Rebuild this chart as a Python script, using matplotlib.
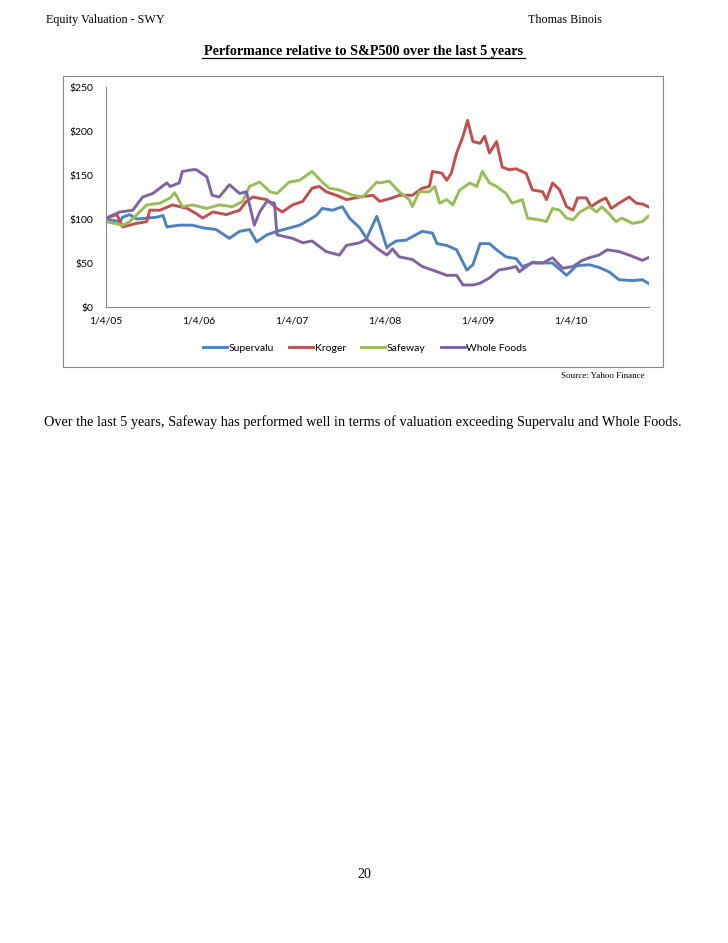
import matplotlib
matplotlib.use('Agg')
import matplotlib.pyplot as plt
from matplotlib.patches import Rectangle
from matplotlib.lines import Line2D
import pandas as pd

# Values (relative to S&P500, start = $100)
supervalu_dates = [
    '2005-01-04', '2005-01-19', '2005-02-28', '2005-03-10', '2005-04-07', '2005-05-04',
    '2005-06-13', '2005-07-22', '2005-08-16', '2005-08-31', '2005-10-19', '2005-12-10',
    '2006-01-19', '2006-03-13', '2006-05-04', '2006-06-13', '2006-07-22', '2006-08-19',
    '2006-09-28', '2006-11-07', '2006-12-16', '2007-02-04', '2007-03-01', '2007-04-10',
    '2007-05-04', '2007-06-13', '2007-07-22', '2007-08-19', '2007-09-28', '2007-10-25',
    '2007-12-04', '2007-12-16', '2008-01-13', '2008-01-22', '2008-02-19', '2008-03-28',
    '2008-05-31', '2008-07-10', '2008-07-28', '2008-09-04', '2008-10-13', '2008-11-22',
    '2008-12-16', '2009-01-13', '2009-02-19', '2009-03-19', '2009-04-25', '2009-06-04',
    '2009-06-28', '2009-08-07', '2009-10-25', '2009-12-19', '2010-01-28', '2010-03-19',
    '2010-04-25', '2010-06-04', '2010-07-13', '2010-09-04', '2010-10-13', '2010-11-05']
supervalu = [
    101, 99, 97, 102, 105, 100,
    101, 102, 104, 91, 93, 93,
    90, 88, 78, 86, 88, 74,
    82, 86, 89, 93, 97, 104,
    112, 110, 114, 101, 90, 78,
    103, 93, 67, 70, 75, 76,
    86, 84, 72, 70, 65, 42,
    48, 72, 72, 65, 57, 55,
    46, 50, 50, 36, 47, 48,
    45, 40, 31, 30, 31, 27]

kroger_dates = [
    '2005-01-04', '2005-02-16', '2005-03-10', '2005-05-04', '2005-06-13', '2005-06-25',
    '2005-08-04', '2005-09-22', '2005-11-19', '2005-12-25', '2006-01-19', '2006-02-28',
    '2006-04-22', '2006-06-13', '2006-07-10', '2006-08-04', '2006-09-28', '2006-11-07',
    '2006-11-28', '2007-01-07', '2007-02-16', '2007-03-25', '2007-04-22', '2007-05-19',
    '2007-06-28', '2007-08-07', '2007-09-28', '2007-11-19', '2007-12-16', '2008-02-04',
    '2008-03-01', '2008-04-22', '2008-05-31', '2008-06-28', '2008-07-10', '2008-08-16',
    '2008-09-04', '2008-09-22', '2008-10-13', '2008-11-07', '2008-11-25', '2008-12-16',
    '2009-01-13', '2009-01-31', '2009-02-19', '2009-03-19', '2009-04-10', '2009-05-07',
    '2009-06-04', '2009-07-13', '2009-08-07', '2009-09-16', '2009-10-01', '2009-10-25',
    '2009-11-22', '2009-12-19', '2010-01-13', '2010-01-31', '2010-03-07', '2010-03-25',
    '2010-04-25', '2010-05-22', '2010-06-13', '2010-07-13', '2010-08-22', '2010-09-19',
    '2010-10-13', '2010-11-05']
kroger = [
    101, 105, 91, 95, 97, 110,
    110, 116, 112, 106, 101, 108,
    105, 110, 120, 125, 122, 112,
    108, 116, 120, 135, 137, 131,
    127, 122, 125, 127, 120, 124,
    127, 127, 135, 137, 154, 152,
    144, 152, 175, 194, 212, 188,
    186, 194, 175, 188, 159, 156,
    157, 152, 133, 131, 122, 141,
    133, 114, 110, 124, 124, 114,
    120, 124, 112, 118, 125, 118,
    117, 114]

safeway_dates = [
    '2005-01-04', '2005-03-10', '2005-04-07', '2005-06-13', '2005-08-04', '2005-09-13',
    '2005-10-01', '2005-10-31', '2005-12-10', '2006-02-04', '2006-03-25', '2006-05-16',
    '2006-06-25', '2006-07-22', '2006-08-31', '2006-10-10', '2006-11-07', '2006-12-25',
    '2007-02-04', '2007-03-25', '2007-05-04', '2007-05-31', '2007-07-10', '2007-08-31',
    '2007-10-10', '2007-12-04', '2007-12-16', '2008-01-22', '2008-03-01', '2008-04-10',
    '2008-04-22', '2008-05-19', '2008-06-28', '2008-07-19', '2008-08-07', '2008-09-04',
    '2008-09-28', '2008-10-25', '2008-12-04', '2008-12-31', '2009-01-22', '2009-02-19',
    '2009-03-19', '2009-04-25', '2009-05-19', '2009-06-28', '2009-07-19', '2009-09-04',
    '2009-10-01', '2009-10-25', '2009-11-22', '2009-12-19', '2010-01-13', '2010-02-10',
    '2010-03-19', '2010-04-16', '2010-05-07', '2010-06-04', '2010-07-01', '2010-07-25',
    '2010-09-04', '2010-10-13', '2010-11-05']
safeway = [
    97, 93, 97, 116, 118, 124,
    130, 114, 116, 112, 116, 114,
    120, 137, 142, 131, 129, 142,
    144, 154, 142, 135, 133, 127,
    125, 142, 141, 143, 131, 122,
    114, 131, 131, 137, 118, 122,
    116, 133, 141, 137, 154, 141,
    137, 129, 118, 122, 101, 99,
    97, 112, 110, 101, 99, 108,
    114, 108, 114, 106, 97, 101,
    95, 97, 103]

wholefoods_dates = [
    '2005-01-04', '2005-02-28', '2005-04-19', '2005-05-28', '2005-07-07', '2005-08-31',
    '2005-09-13', '2005-10-19', '2005-10-31', '2005-12-10', '2005-12-25', '2006-02-04',
    '2006-02-25', '2006-03-25', '2006-05-04', '2006-06-13', '2006-07-10', '2006-08-10',
    '2006-08-31', '2006-09-28', '2006-10-28', '2006-11-07', '2007-01-07', '2007-02-16',
    '2007-03-25', '2007-05-19', '2007-07-10', '2007-08-07', '2007-09-28', '2007-10-25',
    '2007-12-04', '2008-01-13', '2008-02-04', '2008-03-01', '2008-04-22', '2008-05-31',
    '2008-07-10', '2008-09-04', '2008-10-13', '2008-11-07', '2008-12-16', '2009-01-13',
    '2009-02-19', '2009-03-28', '2009-05-07', '2009-06-04', '2009-06-16', '2009-08-07',
    '2009-09-16', '2009-10-25', '2009-12-04', '2010-01-13', '2010-02-19', '2010-03-19',
    '2010-04-25', '2010-05-28', '2010-07-13', '2010-08-22', '2010-10-13', '2010-11-05']
wholefoods = [
    101, 108, 110, 125, 129, 141,
    137, 141, 154, 156, 156, 148,
    127, 125, 139, 129, 131, 93,
    108, 120, 118, 82, 78, 73,
    75, 63, 59, 70, 73, 77,
    67, 59, 66, 57, 54, 46,
    42, 36, 36, 25, 25, 27,
    33, 42, 44, 46, 40, 51,
    50, 56, 44, 46, 53, 56,
    59, 65, 63, 59, 53, 56]

tick_dates = ['2005-01-04', '2006-01-04', '2007-01-04', '2008-01-04', '2009-01-04', '2010-01-04']
tick_labels = ['1/4/05', '1/4/06', '1/4/07', '1/4/08', '1/4/09', '1/4/10']
y_ticks = [0, 50, 100, 150, 200, 250]

series = [
    ('Supervalu', supervalu_dates, supervalu, '#4F81BD'),
    ('Kroger', kroger_dates, kroger, '#C0504D'),
    ('Safeway', safeway_dates, safeway, '#9BBB59'),
    ('Whole Foods', wholefoods_dates, wholefoods, '#8064A2'),
]

W, H = 728, 943
fig = plt.figure(figsize=(W / 100, H / 100), dpi=100)
serif = 'Liberation Serif'
sans = 'Lato'

# page header
fig.text(46 / W, 1 - 20 / H, 'Equity Valuation - SWY', family=serif, fontsize=8.7,
         ha='left', va='center')
fig.text(602 / W, 1 - 20 / H, 'Thomas Binois', family=serif, fontsize=8.7,
         ha='right', va='center')
fig.text(364 / W, 1 - 51 / H, 'Performance relative to S&P500 over the last 5 years',
         family=serif, fontsize=10.2, weight='bold', ha='center', va='center')
fig.add_artist(Line2D([202 / W, 525 / W], [1 - 58 / H, 1 - 58 / H], color='black', lw=0.9))

# chart frame
fig.add_artist(Rectangle((63 / W, 1 - 367 / H), 600 / W, 291 / H, transform=fig.transFigure,
                         fill=False, edgecolor='#868686', lw=0.8))

ax = fig.add_axes([106 / W, 1 - 307 / H, 543 / W, 220 / H])
for name, d, v, c in series:
    ax.plot(pd.to_datetime(d), v, color=c, lw=2.1, label=name, solid_joinstyle='round')

ax.set_ylim(0, 250)
ax.set_xlim(pd.Timestamp('2005-01-04'), pd.Timestamp('2010-11-08'))
ax.set_yticks(y_ticks)
ax.set_yticklabels(['$%d' % t for t in y_ticks], family=sans, fontsize=7.5)
ax.set_xticks(pd.to_datetime(tick_dates))
ax.set_xticklabels(tick_labels, family=sans, fontsize=7.5)
ax.tick_params(axis='both', length=0, pad=9)
ax.tick_params(axis='x', pad=7)
for s in ['top', 'right']:
    ax.spines[s].set_visible(False)
for s in ['left', 'bottom']:
    ax.spines[s].set_color('#868686')
    ax.spines[s].set_linewidth(0.8)

fig.legend(loc='center', bbox_to_anchor=(365 / W, 1 - 348 / H), ncol=4, frameon=False,
           prop={'family': sans, 'size': 7.5}, handlelength=2.3, handletextpad=0.15,
           columnspacing=1.45)

fig.text(645 / W, 1 - 376 / H, 'Source: Yahoo Finance', family=serif, fontsize=6.5,
         ha='right', va='center')

fig.text(44 / W, 1 - 422 / H,
         'Over the last 5 years, Safeway has performed well in terms of valuation exceeding '
         'Supervalu and Whole Foods.', family=serif, fontsize=10.25, ha='left', va='center')

fig.text(364 / W, 1 - 875 / H, '20', family=serif, fontsize=10, ha='center', va='center')

fig.savefig('out.png', dpi=100)
